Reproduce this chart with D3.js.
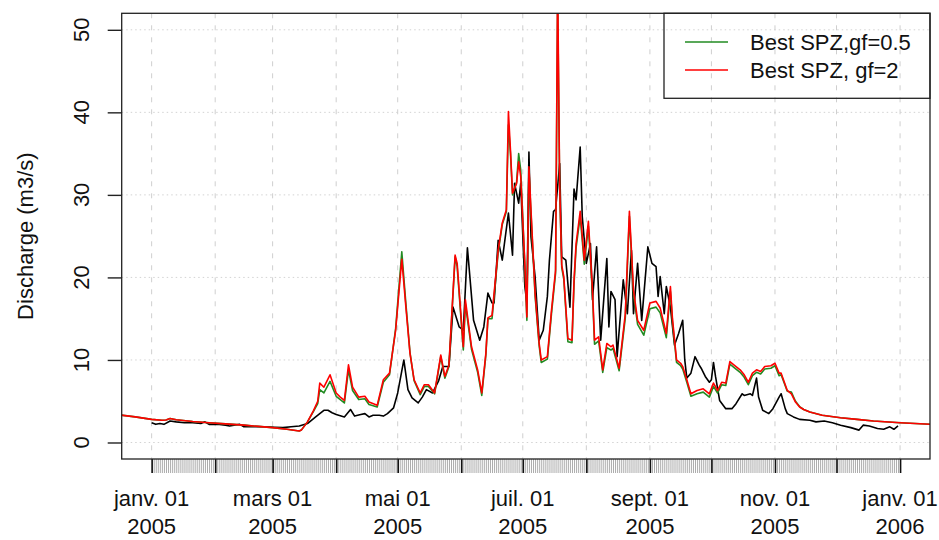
<!DOCTYPE html>
<html>
<head>
<meta charset="utf-8">
<script src="https://cdn.jsdelivr.net/npm/d3@7"></script>
<style>
  html, body { margin: 0; padding: 0; background: #fff; }
  svg text { font-family: "Liberation Sans", Arial, Helvetica, sans-serif; }
</style>
</head>
<body>
<svg id="chart" width="939" height="540"></svg>
<script>
// Daily discharge, 2005. Each entry: [day since 2005-01-01, discharge in m3/s]
const observed = [
  [0,2.4],[2,2.2],[4,2.3],[6,2.2],[9,2.6],[12,2.5],[16,2.4],[20,2.4],[24,2.3],[26,2.5],[28,2.2],
  [33,2.2],[36,2.1],[38,2.0],[43,2.2],[45,1.9],[50,1.9],[56,1.9],[60,1.85],[64,1.8],[68,1.9],
  [72,2.0],[76,2.3],[80,3.1],[84,3.9],[86,3.9],[88,3.6],[90,3.4],[94,3.1],[97,4.0],[99,3.2],
  [102,3.4],[104,3.5],[106,3.1],[108,3.3],[111,3.3],[113,3.2],[115,3.5],[118,4.2],[120,6.0],
  [123,10.0],[125,6.4],[127,5.4],[130,4.8],[132,5.5],[134,6.4],[137,6.0],[140,7.5],[142,9.2],
  [145,9.2],[147,16.4],[150,14.0],[152,13.6],[154,23.6],[157,14.8],[160,12.4],[162,14.0],
  [164,18.1],[166,16.9],[167,16.9],[169,24.5],[171,22.1],[174,27.8],[176,22.7],[177,31.4],
  [179,29.0],[180,31.4],[182,18.9],[183,16.9],[184,35.2],[185,24.9],[187,20.1],[189,12.4],
  [191,13.6],[193,17.7],[194,22.1],[196,28.0],[197,28.2],[199,33.8],[200,22.5],[202,22.1],
  [204,16.4],[206,30.7],[207,29.4],[209,35.8],[210,27.4],[212,21.7],[214,24.1],[215,17.3],
  [217,23.7],[219,12.4],[222,22.3],[223,14.0],[224,18.3],[226,17.3],[227,10.4],[230,19.7],
  [232,15.6],[234,23.3],[235,15.6],[237,21.7],[239,14.8],[242,23.7],[244,21.7],[246,21.3],
  [247,17.7],[248,20.1],[250,15.6],[251,18.9],[253,16.4],[255,11.8],[257,13.2],[259,14.8],
  [260,10.0],[261,7.8],[263,8.4],[265,10.4],[267,9.4],[268,9.0],[270,8.0],[272,7.3],[273,7.6],
  [274,9.7],[275,8.0],[277,5.1],[280,4.1],[283,4.1],[285,4.7],[288,5.9],[289,5.7],[292,5.9],
  [293,5.7],[295,7.8],[296,5.5],[298,3.9],[301,3.5],[303,4.1],[306,5.5],[307,5.9],[309,4.1],
  [310,3.5],[313,3.1],[316,2.8],[321,2.7],[324,2.5],[328,2.6],[332,2.4],[336,2.1],[341,1.8],
  [345,1.5],[347,2.1],[350,2.0],[354,1.7],[357,1.6],[360,1.9],[362,1.6],[364,2.0]
];

const simGf05 = [
  [-16,3.35],[-8,3.1],[0,2.8],[5,2.7],[7,2.72],[9,2.9],[12,2.75],[20,2.55],[28,2.4],[36,2.25],
  [45,2.1],[52,1.95],[59,1.8],[66,1.6],[72,1.4],[73,1.5],[76,2.5],[79,3.8],[81,4.7],[82,6.4],
  [84,6.0],[87,7.4],[90,5.6],[92,5.2],[94,4.8],[96,8.8],[98,6.3],[101,5.2],[104,5.3],[106,4.6],
  [110,4.3],[113,7.3],[116,8.2],[119,13.8],[122,23.1],[124,16.8],[126,10.9],[128,7.5],[131,5.8],
  [133,6.8],[135,6.8],[138,5.9],[141,10.4],[143,7.8],[145,9.2],[148,22.5],[149,21.3],[152,11.2],
  [153,16.8],[156,11.3],[159,8.5],[161,5.7],[163,10.6],[164,15.0],[166,15.0],[169,23.0],
  [171,26.4],[173,28.0],[174,38.5],[175,35.0],[176,30.0],[178,31.6],[179,35.0],[180,33.0],
  [182,21.4],[183,14.8],[184,33.0],[185,27.8],[187,17.8],[189,11.7],[190,9.7],[193,10.1],
  [195,15.6],[197,20.5],[198,54],[199,30.5],[200,21.2],[201,19.8],[203,12.2],[205,12.1],
  [206,19.2],[207,23.6],[209,27.4],[211,21.6],[213,26.2],[215,18.0],[216,11.9],[218,12.3],
  [220,8.5],[222,11.5],[224,11.2],[225,11.4],[228,8.7],[231,15.1],[233,27.4],[235,18.0],
  [237,14.3],[240,13.0],[243,16.2],[246,16.4],[248,15.7],[251,12.7],[253,18.3],[254,14.6],
  [256,9.7],[258,9.3],[259,8.9],[261,7.3],[263,5.6],[266,5.9],[269,6.1],[272,5.5],[274,6.8],
  [276,6.0],[278,7.0],[280,6.9],[282,9.5],[285,8.9],[287,8.5],[289,7.9],[291,7.0],[293,8.1],
  [295,8.5],[297,8.3],[299,8.9],[302,9.0],[304,9.3],[306,8.1],[307,8.2],[310,6.2],[312,6.1],
  [314,5.0],[316,4.35],[318,4.0],[321,3.7],[327,3.3],[336,3.0],[344,2.8],[352,2.6],[365,2.4],
  [381,2.2]
];

const simGf2 = [
  [-16,3.35],[-8,3.1],[0,2.8],[5,2.7],[7,2.72],[9,2.9],[12,2.75],[20,2.55],[28,2.4],[36,2.25],
  [45,2.1],[52,1.95],[59,1.8],[66,1.6],[72,1.4],[73,1.5],[76,2.5],[79,3.9],[81,5.0],[82,7.2],
  [84,6.7],[87,8.2],[90,6.0],[92,5.5],[94,5.1],[96,9.4],[98,6.7],[101,5.5],[104,5.6],[106,4.9],
  [110,4.5],[113,7.6],[116,8.4],[119,13.6],[122,22.2],[124,16.4],[126,10.8],[128,7.6],[131,6.0],
  [133,7.0],[135,7.0],[138,6.0],[141,10.6],[143,8.0],[145,9.4],[148,22.7],[149,21.7],[152,11.6],
  [153,17.3],[156,11.6],[159,8.8],[161,6.0],[163,10.8],[164,15.1],[166,15.4],[169,23.3],
  [171,26.6],[173,28.2],[174,40.1],[175,35.4],[176,30.2],[178,31.4],[179,34.0],[180,32.2],
  [182,21.7],[183,15.2],[184,33.4],[185,28.2],[187,18.1],[189,12.0],[190,10.0],[193,10.4],
  [195,16.0],[197,20.9],[198,56],[199,31.0],[200,21.5],[201,20.1],[203,12.6],[205,12.4],
  [206,19.7],[207,24.1],[209,28.0],[211,22.1],[213,26.8],[215,18.5],[216,12.4],[218,12.8],
  [220,8.8],[222,12.0],[224,11.6],[225,11.8],[228,9.0],[231,15.6],[233,28.0],[235,18.5],
  [237,14.8],[240,13.6],[243,16.9],[246,17.1],[248,16.3],[251,13.2],[253,18.9],[254,15.0],
  [256,10.0],[258,9.6],[259,9.2],[261,7.6],[263,5.9],[266,6.3],[269,6.5],[272,5.9],[274,7.2],
  [276,6.3],[278,7.3],[280,7.2],[282,9.8],[285,9.2],[287,8.8],[289,8.2],[291,7.3],[293,8.4],
  [295,8.8],[297,8.6],[299,9.2],[302,9.3],[304,9.6],[306,8.4],[307,8.4],[310,6.3],[312,5.9],
  [314,4.9],[316,4.3],[318,4.0],[321,3.7],[327,3.3],[336,3.0],[344,2.8],[352,2.6],[365,2.4],
  [381,2.2]
];

const yTicks = [0, 10, 20, 30, 40, 50];
const xLabelMonths = ["2005-01-01","2005-03-01","2005-05-01","2005-07-01","2005-09-01","2005-11-01","2006-01-01"];
const xLabels = [
  ["janv. 01","2005"],["mars 01","2005"],["mai 01","2005"],["juil. 01","2005"],
  ["sept. 01","2005"],["nov. 01","2005"],["janv. 01","2006"]
];
const legendItems = [
  { label: "Best SPZ,gf=0.5", color: "#228b22" },
  { label: "Best SPZ, gf=2", color: "#ff0000" }
];

const DAY = 864e5;
const origin = Date.UTC(2005, 0, 1);
const toDate = d => new Date(origin + d * DAY);

const box = { left: 121.7, right: 930, top: 13.3, bottom: 459 };
const x = d3.scaleUtc()
  .domain([toDate(-14.6), toDate(365 + 14.6)])
  .range([box.left, box.right]);
const y = d3.scaleLinear().domain([-2, 52]).range([box.bottom, box.top]);

const svg = d3.select("#chart");

svg.append("defs").append("clipPath").attr("id", "plotClip")
  .append("rect")
  .attr("x", box.left).attr("y", box.top)
  .attr("width", box.right - box.left).attr("height", box.bottom - box.top);

const monthTicks = d3.utcMonth.range(toDate(0), toDate(366));
const dayTicks = d3.utcDay.range(toDate(0), toDate(366));

// grid
const grid = svg.append("g");
grid.selectAll("line.h").data(yTicks).join("line")
  .attr("x1", box.left).attr("x2", box.right)
  .attr("y1", d => y(d)).attr("y2", d => y(d))
  .attr("stroke", "#d3d3d3").attr("stroke-width", 1)
  .attr("stroke-dasharray", "1.5,3");
grid.selectAll("line.v").data(monthTicks).join("line")
  .attr("x1", d => x(d)).attr("x2", d => x(d))
  .attr("y1", box.top).attr("y2", box.bottom)
  .attr("stroke", "#cfcfcf").attr("stroke-width", 1)
  .attr("stroke-dasharray", "5,7");

// series
const line = d3.line()
  .x(d => x(toDate(d[0])))
  .y(d => y(d[1]));

const series = svg.append("g").attr("clip-path", "url(#plotClip)");
series.append("path").datum(observed)
  .attr("fill", "none").attr("stroke", "#000").attr("stroke-width", 1.6)
  .attr("stroke-linejoin", "round").attr("d", line);
series.append("path").datum(simGf05)
  .attr("fill", "none").attr("stroke", legendItems[0].color).attr("stroke-width", 1.6)
  .attr("stroke-linejoin", "round").attr("d", line);
series.append("path").datum(simGf2)
  .attr("fill", "none").attr("stroke", legendItems[1].color).attr("stroke-width", 1.6)
  .attr("stroke-linejoin", "round").attr("d", line);

// x axis: daily ticks plus month ticks
const dayAxis = svg.append("g")
  .attr("transform", `translate(0,${box.bottom})`)
  .call(d3.axisBottom(x).tickValues(dayTicks).tickSize(14).tickFormat(""));
dayAxis.select(".domain").remove();
dayAxis.selectAll(".tick line").attr("stroke", "#888").attr("stroke-width", 0.7);

const monthAxis = svg.append("g")
  .attr("transform", `translate(0,${box.bottom})`)
  .call(d3.axisBottom(x).tickValues(monthTicks).tickSize(14).tickFormat(""));
monthAxis.select(".domain").remove();
monthAxis.selectAll(".tick line").attr("stroke", "#111").attr("stroke-width", 1.6);

const labelDates = xLabelMonths.map(s => new Date(s + "T00:00:00Z"));
const xl = svg.append("g");
labelDates.forEach((d, i) => {
  const t = xl.append("text")
    .attr("text-anchor", "middle")
    .attr("font-size", 22).attr("fill", "#111");
  t.append("tspan").attr("x", x(d)).attr("y", 506).text(xLabels[i][0]);
  t.append("tspan").attr("x", x(d)).attr("y", 534).text(xLabels[i][1]);
});

// y axis
const yAxis = svg.append("g")
  .attr("transform", `translate(${box.left},0)`)
  .call(d3.axisLeft(y).tickValues(yTicks).tickSize(14).tickFormat(""));
yAxis.select(".domain").remove();
yAxis.selectAll(".tick line").attr("stroke", "#222").attr("stroke-width", 1.4);

svg.append("g").selectAll("text").data(yTicks).join("text")
  .attr("transform", d => `translate(89,${y(d)}) rotate(-90)`)
  .attr("text-anchor", "middle")
  .attr("font-size", 22).attr("fill", "#111")
  .text(d => d);

svg.append("text")
  .attr("transform", `translate(33,${(box.top + box.bottom) / 2}) rotate(-90)`)
  .attr("text-anchor", "middle")
  .attr("font-size", 22).attr("fill", "#111")
  .text("Discharge (m3/s)");

// plot frame
svg.append("rect")
  .attr("x", box.left).attr("y", box.top)
  .attr("width", box.right - box.left).attr("height", box.bottom - box.top)
  .attr("fill", "none").attr("stroke", "#222").attr("stroke-width", 1.3);

// legend
const lg = svg.append("g");
lg.append("rect")
  .attr("x", 664).attr("y", box.top)
  .attr("width", box.right - 664).attr("height", 98.3 - box.top)
  .attr("fill", "none").attr("stroke", "#222").attr("stroke-width", 1.3);
legendItems.forEach((item, i) => {
  const cy = 42 + i * 28;
  lg.append("line")
    .attr("x1", 685).attr("x2", 728).attr("y1", cy).attr("y2", cy)
    .attr("stroke", item.color).attr("stroke-width", 1.5);
  lg.append("text")
    .attr("x", 750).attr("y", cy + 8)
    .attr("font-size", 22).attr("fill", "#111")
    .text(item.label);
});
</script>
</body>
</html>
